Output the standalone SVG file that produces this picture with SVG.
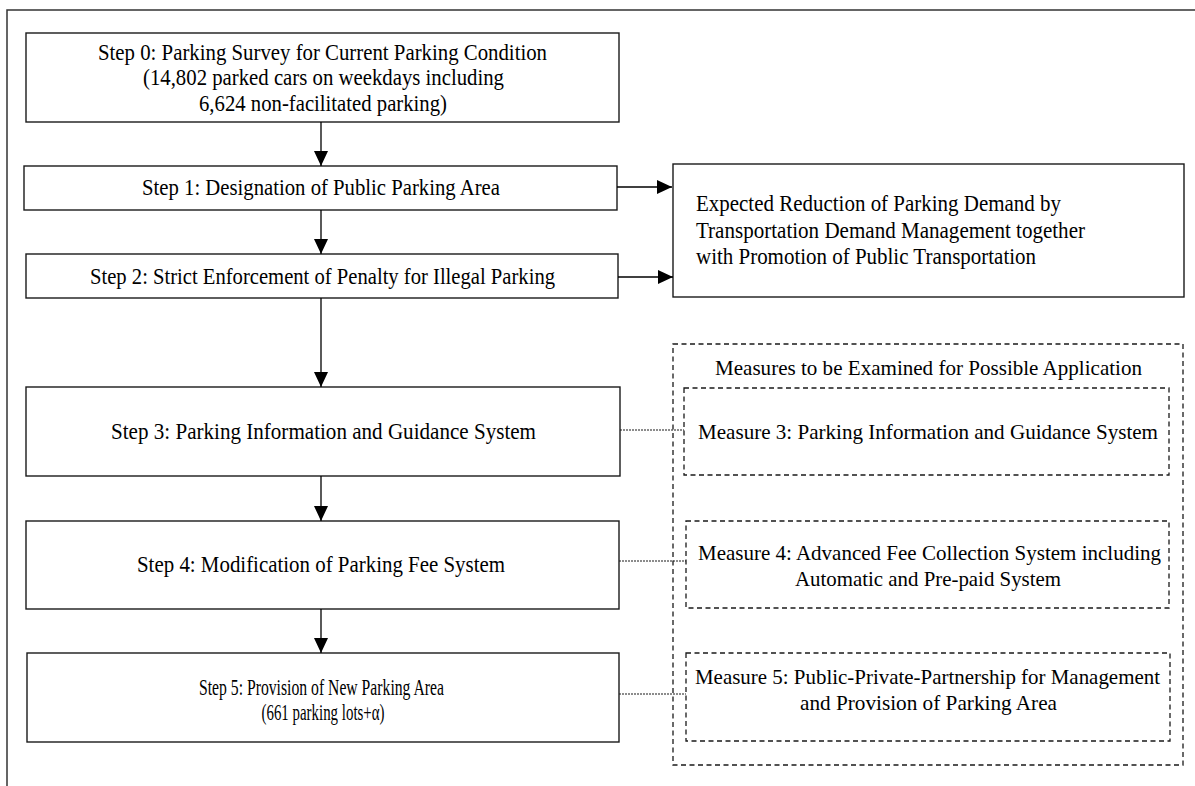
<svg xmlns="http://www.w3.org/2000/svg" width="1195" height="786" viewBox="0 0 1195 786">
  <defs>
    <marker id="arrow" markerWidth="15" markerHeight="14" refX="15" refY="7" orient="auto" markerUnits="userSpaceOnUse">
      <path d="M0,0 L15,7 L0,14 Z" fill="#000"/>
    </marker>
  </defs>
  <style>
    .box { fill: #fff; stroke: #1a1a1a; stroke-width: 1.4; }
    .dbox { fill: none; stroke: #1a1a1a; stroke-width: 1.3; stroke-dasharray: 5 3.5; }
    .frame { fill: none; stroke: #333; stroke-width: 1.5; }
    .flow { stroke: #000; stroke-width: 1.3; fill: none; }
    .dot { stroke: #1a1a1a; stroke-width: 1.2; fill: none; stroke-dasharray: 2 1; }
    text { font-family: "Liberation Serif", "Times New Roman", serif; font-size: 23.5px; fill: #000; }
    .m { font-size: 22px; }
    .c { text-anchor: middle; }
  </style>

  <!-- page frame (top and left rules) -->
  <path class="frame" d="M7,786 V10 H1195"/>

  <!-- main flow steps -->
  <g id="step0">
    <rect class="box" x="26" y="33" width="593" height="89"/>
    <text class="c" x="322.5" y="60" textLength="449" lengthAdjust="spacingAndGlyphs">Step 0: Parking Survey for Current Parking Condition</text>
    <text class="c" x="323.5" y="85" textLength="361" lengthAdjust="spacingAndGlyphs">(14,802 parked cars on weekdays including</text>
    <text class="c" x="323" y="111" textLength="248" lengthAdjust="spacingAndGlyphs">6,624 non-facilitated parking)</text>
  </g>

  <g id="step1">
    <rect class="box" x="24" y="166" width="593" height="44"/>
    <text class="c" x="321" y="195" textLength="358" lengthAdjust="spacingAndGlyphs">Step 1: Designation of Public Parking Area</text>
  </g>

  <g id="step2">
    <rect class="box" x="26" y="254" width="592" height="44"/>
    <text class="c" x="322.5" y="284" textLength="465" lengthAdjust="spacingAndGlyphs">Step 2: Strict Enforcement of Penalty for Illegal Parking</text>
  </g>

  <g id="step3">
    <rect class="box" x="26" y="387" width="594" height="89"/>
    <text class="c" x="323.5" y="439" textLength="425" lengthAdjust="spacingAndGlyphs">Step 3: Parking Information and Guidance System</text>
  </g>

  <g id="step4">
    <rect class="box" x="26" y="521" width="593" height="88"/>
    <text class="c" x="321" y="572" textLength="368" lengthAdjust="spacingAndGlyphs">Step 4: Modification of Parking Fee System</text>
  </g>

  <g id="step5">
    <rect class="box" x="27" y="653" width="592" height="89"/>
    <text class="c" x="321.5" y="695" textLength="245" lengthAdjust="spacingAndGlyphs">Step 5: Provision of New Parking Area</text>
    <text class="c" x="323" y="720" textLength="123" lengthAdjust="spacingAndGlyphs">(661 parking lots+α)</text>
  </g>

  <!-- expected outcome -->
  <g id="expected">
    <rect class="box" x="673" y="164" width="511" height="133"/>
    <text x="696" y="211" textLength="365" lengthAdjust="spacingAndGlyphs">Expected Reduction of Parking Demand by</text>
    <text x="696" y="238" textLength="389" lengthAdjust="spacingAndGlyphs">Transportation Demand Management together</text>
    <text x="696" y="264" textLength="340" lengthAdjust="spacingAndGlyphs">with Promotion of Public Transportation</text>
  </g>

  <!-- supporting measures -->
  <g id="measures">
    <rect class="dbox" x="673" y="344" width="510" height="421"/>
    <text class="c m" x="928.5" y="375" textLength="427" lengthAdjust="spacingAndGlyphs">Measures to be Examined for Possible Application</text>
  </g>

  <g id="measure3">
    <rect class="dbox" x="684" y="388" width="485" height="87"/>
    <text class="c m" x="928" y="439" textLength="460" lengthAdjust="spacingAndGlyphs">Measure 3: Parking Information and Guidance System</text>
  </g>

  <g id="measure4">
    <rect class="dbox" x="686" y="521" width="483" height="87"/>
    <text class="c m" x="929.5" y="560" textLength="463" lengthAdjust="spacingAndGlyphs">Measure 4: Advanced Fee Collection System including</text>
    <text class="c m" x="928" y="586" textLength="266" lengthAdjust="spacingAndGlyphs">Automatic and Pre-paid System</text>
  </g>

  <g id="measure5">
    <rect class="dbox" x="686" y="653" width="484" height="88"/>
    <text class="c m" x="927.5" y="684" textLength="465" lengthAdjust="spacingAndGlyphs">Measure 5: Public-Private-Partnership for Management</text>
    <text class="c m" x="928.5" y="710" textLength="257" lengthAdjust="spacingAndGlyphs">and Provision of Parking Area</text>
  </g>

  <!-- connectors -->
  <g id="connectors">
    <line class="flow" x1="321" y1="122" x2="321" y2="166" marker-end="url(#arrow)"/>
    <line class="flow" x1="321" y1="210" x2="321" y2="254" marker-end="url(#arrow)"/>
    <line class="flow" x1="321" y1="298" x2="321" y2="387" marker-end="url(#arrow)"/>
    <line class="flow" x1="321" y1="476" x2="321" y2="521" marker-end="url(#arrow)"/>
    <line class="flow" x1="321" y1="609" x2="321" y2="653" marker-end="url(#arrow)"/>
    <line class="flow" x1="617" y1="187" x2="672" y2="187" marker-end="url(#arrow)"/>
    <line class="flow" x1="618" y1="277" x2="673" y2="277" marker-end="url(#arrow)"/>
    <line class="dot" x1="620" y1="430" x2="684" y2="430"/>
    <line class="dot" x1="619" y1="561" x2="686" y2="561"/>
    <line class="dot" x1="619" y1="694" x2="686" y2="694"/>
  </g>
</svg>
